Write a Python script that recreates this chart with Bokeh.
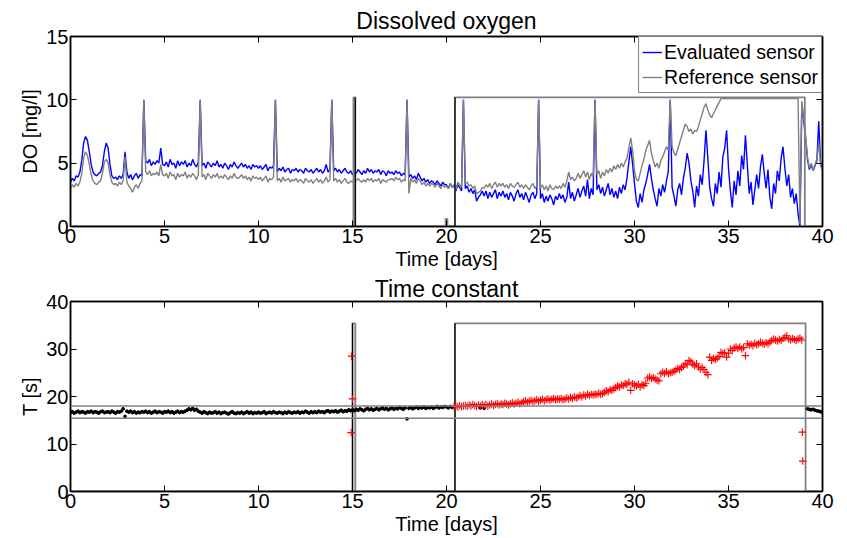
from bokeh.plotting import figure
from bokeh.models import LinearAxis, Range1d, FixedTicker, Legend, LegendItem, Span
from bokeh.layouts import column
from bokeh.embed import file_html
from bokeh.resources import INLINE

FONT = "Liberation Sans"

# ---------------- data ----------------
x_ticks = [0, 5, 10, 15, 20, 25, 30, 35, 40]
do_ticks = [0, 5, 10, 15]
t_ticks = [0, 10, 20, 30, 40]

# DO sampled every 0.1 day, day 0.0 .. 40.0
do_time = [i / 10 for i in range(401)]

do_evaluated = [
    3.5, 3.8, 3.6, 4.0, 3.9, 4.3, 5.2, 6.6, 7.1, 6.8,
    5.9, 4.9, 4.3, 4.1, 4.0, 4.2, 4.3, 4.8, 5.9, 6.6,
    6.2, 4.9, 4.0, 3.8, 3.9, 3.7, 4.0, 3.8, 4.1, 5.9,
    4.3, 3.8, 4.1, 3.7, 4.0, 4.2, 3.8, 4.1, 4.0, 10.0,
    5.2, 5.0, 5.3, 4.8, 5.1, 4.9, 5.2, 5.0, 6.2, 4.9,
    4.8, 5.1, 4.7, 5.3, 4.9, 5.0, 4.6, 5.2, 4.8, 5.1,
    4.9, 5.2, 4.7, 5.0, 4.8, 5.3, 4.9, 4.7, 5.1, 10.0,
    4.8, 5.0, 4.6, 5.1, 4.9, 4.7, 5.0, 4.8, 5.2, 4.7,
    4.9, 4.6, 5.0, 4.8, 4.5, 4.9, 4.7, 5.1, 4.8, 4.6,
    4.8, 5.0, 4.7, 4.9, 4.6, 4.8, 4.5, 4.9, 4.7, 4.8,
    4.6, 4.8, 4.5, 4.7, 4.9, 4.4, 4.7, 4.6, 4.8, 10.0,
    4.3, 4.6, 4.4, 4.7, 4.3, 4.5, 4.6, 4.2, 4.5, 4.4,
    4.6, 4.3, 4.5, 4.4, 4.2, 4.6, 4.4, 4.3, 4.5, 4.2,
    4.4, 4.6, 4.3, 4.5, 4.2, 4.4, 4.9, 4.3, 4.5, 10.0,
    4.4, 4.6, 4.3, 4.5, 4.2, 4.4, 4.6, 4.3, 4.2, 4.4,
    4.1, 4.3, 4.2, 4.5, 4.3, 4.1, 4.4, 4.2, 4.6, 4.3,
    4.5, 4.2, 4.4, 4.3, 4.5, 4.1, 4.4, 4.3, 4.0, 4.4,
    4.2, 4.3, 4.1, 4.4, 4.2, 4.3, 4.0, 4.2, 4.1, 10.0,
    3.9, 4.1, 3.8, 4.0, 3.7, 4.2, 3.9, 3.6, 3.8, 3.5,
    3.7, 3.4, 3.6, 3.5, 3.3, 3.6, 3.4, 3.2, 3.5, 3.3,
    3.3, 3.0, 3.4, 3.1, 3.2, 2.8, 3.3, 3.1, 2.8, 10.0,
    3.0, 3.2, 2.7, 3.0, 2.6, 2.9, 2.0, 2.3, 2.5, 2.8,
    2.4, 2.8, 2.2, 2.7, 2.3, 2.6, 2.9, 2.2, 2.7, 2.4,
    2.8, 2.3, 2.6, 2.1, 2.7, 2.4, 2.0, 2.6, 2.9, 2.3,
    2.6, 2.1, 2.7, 2.3, 1.9, 2.5, 2.7, 2.2, 2.6, 10.0,
    2.2, 2.6, 1.9, 2.4, 2.0, 2.5, 2.2, 1.7, 2.4, 2.1,
    2.6, 2.2, 2.5, 1.9, 2.3, 3.5, 2.2, 2.7, 2.0, 2.5,
    3.0, 2.3, 2.8, 3.2, 2.4, 3.7, 2.2, 3.0, 2.5, 10.0,
    2.9, 3.3, 2.6, 3.1, 2.4, 2.9, 3.4, 2.5, 3.0, 2.3,
    2.8, 2.2, 3.1, 2.6, 3.3, 2.9, 3.8, 5.1, 6.3, 4.9,
    3.4, 2.0, 1.5, 2.6, 1.9, 2.9, 3.4, 4.1, 4.9, 3.8,
    2.9, 2.2, 1.6, 3.0, 2.4, 3.3, 2.7, 3.6, 4.4, 10.0,
    3.1, 2.4, 1.6, 2.9, 3.4, 2.5, 3.8, 4.6, 5.8, 5.0,
    3.6, 2.8, 1.5, 3.2, 2.4, 4.1, 3.3, 5.2, 7.6, 5.4,
    3.1, 2.2, 1.6, 3.4, 2.6, 4.3, 3.1, 5.5, 6.2, 7.6,
    4.6, 2.8, 1.5, 3.6, 2.5, 4.4, 3.2, 5.6, 4.5, 7.2,
    4.9, 2.6, 3.5, 1.7, 2.9, 4.1, 3.0, 4.7, 5.7, 4.2,
    3.0, 4.5, 2.3, 1.4, 3.4, 2.6, 4.4, 3.6, 5.4, 6.3,
    4.6, 3.2, 4.1, 2.3, 3.0, 1.8, 2.6, 1.0, 0.0, 9.6,
    8.4, 7.0, 5.3, 4.5, 4.9, 4.4, 4.8, 5.2, 8.3, 4.9,
    4.5,
]

do_reference = [
    3.0, 3.3, 3.1, 3.4, 3.2, 3.5, 4.2, 5.4, 5.9, 5.6,
    4.9, 4.1, 3.6, 3.4, 3.3, 3.5, 3.6, 4.2, 5.1, 5.3,
    5.0, 4.1, 3.5, 3.3, 3.4, 3.2, 3.5, 3.3, 3.6, 5.5,
    3.5, 3.2, 3.0, 2.7, 3.1, 3.3, 3.0, 3.4, 3.6, 10.0,
    4.3, 4.1, 4.4, 4.0, 4.2, 4.1, 4.3, 4.0, 4.9, 4.1,
    4.0, 4.2, 3.8, 4.3, 4.0, 4.1, 3.7, 4.2, 3.9, 4.1,
    4.0, 4.3, 3.8, 4.1, 3.9, 4.2, 4.0, 3.7, 4.1, 10.0,
    3.9, 4.1, 3.7, 4.2, 4.0, 3.8, 4.1, 3.9, 4.2, 3.8,
    4.0, 3.8, 4.1, 3.9, 3.7, 4.0, 3.8, 4.2, 3.9, 3.8,
    3.9, 4.1, 3.8, 4.0, 3.7, 3.9, 3.6, 4.0, 3.8, 3.9,
    3.7, 3.9, 3.6, 3.8, 4.0, 3.5, 3.8, 3.7, 3.9, 10.0,
    3.6, 3.8, 3.5, 3.9, 3.6, 3.7, 3.8, 3.5, 3.7, 3.6,
    3.8, 3.5, 3.7, 3.6, 3.4, 3.8, 3.6, 3.5, 3.7, 3.4,
    3.6, 3.8, 3.5, 3.7, 3.4, 3.6, 3.9, 3.5, 3.7, 10.0,
    3.6, 3.8, 3.5, 3.7, 3.4, 3.6, 3.8, 3.5, 3.4, 3.6,
    3.5, 3.7, 3.6, 3.8, 3.6, 3.5, 3.7, 3.5, 3.8, 3.6,
    3.8, 3.5, 3.7, 3.6, 3.8, 3.4, 3.7, 3.6, 3.5, 3.7,
    3.7, 3.8, 3.6, 3.9, 3.7, 3.8, 3.5, 3.7, 3.6, 10.0,
    2.6, 3.8, 3.5, 3.7, 3.4, 3.8, 3.6, 3.3, 3.5, 3.2,
    3.4, 3.2, 3.4, 3.3, 3.1, 3.4, 3.2, 3.0, 3.3, 3.1,
    3.2, 3.0, 3.4, 3.1, 3.3, 2.9, 3.5, 3.3, 3.1, 10.0,
    3.4, 3.5, 3.2, 3.3, 3.0, 3.2, 2.6, 2.7, 2.8, 3.1,
    3.0, 3.3, 3.1, 3.4, 3.0, 3.3, 3.5, 3.1, 3.4, 3.2,
    3.4, 3.1, 3.3, 3.0, 3.4, 3.2, 3.1, 3.3, 3.5, 3.1,
    3.3, 3.0, 3.3, 3.1, 2.9, 3.2, 3.4, 3.0, 3.2, 10.0,
    3.0, 3.3, 2.9, 3.2, 2.8, 3.3, 3.0, 2.9, 3.2, 3.0,
    3.2, 3.0, 3.4, 3.1, 3.6, 4.3, 3.7, 3.9, 3.6, 3.8,
    4.2, 3.8, 4.1, 4.4, 3.9, 4.3, 3.7, 4.2, 3.9, 10.0,
    4.1, 4.4, 3.8, 4.3, 4.0, 4.5, 4.2, 4.6, 4.3, 4.8,
    4.5, 4.9, 4.6, 5.0, 4.7, 5.1, 5.4, 6.2, 7.0, 6.0,
    4.4, 3.7, 3.6, 4.2, 4.8, 5.3, 6.0, 6.4, 6.8, 5.8,
    5.2, 4.7, 5.0, 4.6, 5.2, 5.5, 5.9, 6.3, 6.0, 10.0,
    6.3, 5.8, 5.6, 6.1, 6.6, 7.1, 7.6, 8.1, 7.9, 7.5,
    7.7, 7.3, 7.6, 7.5, 7.9, 8.4, 8.9, 9.4, 9.7, 9.2,
    8.8, 8.6, 8.9, 9.2, 9.5, 9.8, 10.1, 10.1, 10.1, 10.1,
    10.1, 10.1, 10.1, 10.1, 10.1, 10.1, 10.1, 10.1, 10.1, 10.1,
    10.1, 10.1, 10.1, 10.1, 10.1, 10.1, 10.1, 10.1, 10.1, 10.1,
    10.1, 10.1, 10.1, 10.1, 10.1, 10.1, 10.1, 10.1, 10.1, 10.1,
    10.1, 10.1, 10.1, 10.1, 10.1, 10.1, 10.1, 10.1, 0.2, 9.9,
    8.6, 7.2, 5.5, 4.6, 5.0, 4.4, 4.9, 5.3, 6.6, 4.8,
    4.4,
]

# fault-flag boxes (gray) and event markers (black)
flag_do_t = [0, 15.05, 15.05, 15.15, 15.15, 19.95, 19.95, 20.05, 20.05, 20.45, 20.45, 39.06, 39.06, 40]
flag_do_v = [0, 0, 10.2, 10.2, 0, 0, 0.6, 0.6, 0, 0, 10.2, 10.2, 0, 0]
mark_do_t = [15.15, 20.45]
mark_do_top = 10.2

flag_tc_t = [0, 15.0, 15.0, 15.15, 15.15, 20.45, 20.45, 39.1, 39.1, 40]
flag_tc_v = [0, 0, 35.4, 35.4, 0, 0, 35.4, 35.4, 0, 0]
mark_tc_t = [15.0, 20.45]
mark_tc_top = 35.4

tc_limits = [15.4, 18.0]

# Time constant, accepted estimates (black)
tc_ok_t = [i / 10 for i in range(204)] + [21.8, 22.0] + [39.2, 39.3, 39.4, 39.5, 39.6, 39.7, 39.8, 39.9, 40.0]
tc_ok_v = [
    16.6, 16.8, 16.5, 16.7, 16.9, 16.6, 16.8, 16.7, 16.5, 16.8,
    16.7, 16.9, 16.6, 16.8, 16.7, 16.5, 16.8, 16.9, 16.6, 16.7,
    16.8, 16.6, 16.9, 16.7, 16.5, 16.8, 16.7, 16.9, 17.4, 15.8,
    16.9, 16.7, 16.9, 16.6, 16.8, 16.5, 16.7, 16.6, 16.8, 16.7,
    16.9, 16.6, 16.8, 16.5, 16.7, 16.9, 16.6, 16.8, 16.7, 16.5,
    16.8, 16.7, 16.9, 16.6, 16.8, 16.5, 16.7, 16.9, 16.6, 16.8,
    16.7, 16.9, 17.1, 17.4, 17.2, 17.5, 17.1, 17.3, 16.9, 16.7,
    16.5, 16.8, 16.6, 16.4, 16.7, 16.5, 16.6, 16.8, 16.5, 16.7,
    16.4, 16.6, 16.7, 16.5, 16.3, 16.6, 16.8, 16.5, 16.4, 16.6,
    16.5, 16.7, 16.4, 16.6, 16.8, 16.5, 16.7, 16.4, 16.6, 16.5,
    16.7, 16.5, 16.6, 16.8, 16.4, 16.6, 16.7, 16.5, 16.8, 16.6,
    16.5, 16.7, 16.6, 16.4, 16.7, 16.5, 16.8, 16.6, 16.5, 16.7,
    16.6, 16.8, 16.5, 16.7, 16.6, 16.9, 16.7, 16.5, 16.8, 16.6,
    16.8, 16.6, 16.9, 16.7, 16.8, 16.6, 16.9, 17.0, 16.7, 16.9,
    16.8, 17.0, 16.7, 16.9, 17.1, 16.8, 17.0, 16.9, 17.2, 17.0,
    17.2, 17.0, 17.3, 17.1, 17.4, 17.2, 17.0, 17.3, 17.5, 17.2,
    17.4, 17.1, 17.3, 17.5, 17.2, 17.4, 17.6, 17.3, 17.5, 17.2,
    17.4, 17.6, 17.3, 17.5, 17.4, 17.7, 17.5, 17.3, 17.6, 15.3,
    17.5, 17.7, 17.4, 17.6, 17.8, 17.5, 17.7, 17.6, 17.8, 17.5,
    17.7, 17.6, 17.8, 17.5, 17.7, 17.9, 17.6, 17.8, 17.7, 17.9,
    17.8, 17.6, 17.9, 17.7,
    17.6, 17.5,
    17.4, 17.3, 17.2, 17.3, 17.1, 17.0, 16.9, 16.8, 16.6,
]

# Time constant, rejected estimates (red)
tc_bad_t = [14.93, 14.95, 15.0] + [204 / 10 + i / 10 for i in range(186)] + [38.93, 38.95]
tc_bad_v = [12.4, 28.5, 19.5] + [
    17.9, 18.0, 17.8, 18.1, 17.9, 18.0,
    18.1, 17.9, 18.2, 18.0, 18.3, 18.1, 17.9, 18.2, 18.0, 18.3,
    18.1, 18.3, 18.0, 18.2, 18.4, 18.1, 18.3, 18.5, 18.2, 18.4,
    18.3, 18.6, 18.4, 18.2, 18.5, 18.7, 18.4, 18.6, 18.8, 18.5,
    18.7, 18.9, 19.1, 18.8, 19.0, 19.2, 18.9, 19.1, 19.3, 19.0,
    19.2, 19.4, 19.1, 19.3, 19.5, 19.2, 19.4, 19.6, 19.3, 19.5,
    19.4, 19.6, 19.3, 19.5, 19.7, 19.5, 19.8, 19.6, 19.9, 19.7,
    19.9, 20.2, 19.9, 20.3, 20.1, 20.4, 20.2, 20.5, 20.3, 20.5,
    20.4, 20.7, 20.5, 20.6, 20.9, 21.2, 21.0, 21.4, 21.3, 21.6,
    21.9, 22.2, 22.0, 22.4, 22.3, 22.7, 22.6, 23.0, 21.3, 22.7,
    22.4, 22.2, 22.6, 22.0, 22.5, 22.3, 22.8, 23.9, 24.1, 23.8,
    24.0, 23.7, 23.5, 23.3, 24.8, 25.1, 24.9, 25.2, 24.8, 25.0,
    25.1, 25.3, 25.6, 25.9, 25.7, 26.1, 26.4, 26.9, 26.7, 27.6,
    27.3, 26.8, 26.5, 26.9, 26.2, 25.8, 26.1, 25.7, 25.1, 24.6,
    28.3, 27.6, 28.0, 27.8, 28.1, 28.4, 29.3, 29.0, 29.2, 28.3,
    29.1, 30.0, 29.7, 30.2, 30.4, 30.1, 30.4, 30.0, 30.3, 28.6,
    31.1, 30.8, 31.0, 30.7, 31.2, 30.9, 31.1, 31.4, 31.2, 31.0,
    31.3, 31.1, 31.5, 31.8, 32.1, 31.9, 31.7, 32.0, 31.8, 32.2,
    32.4, 32.8, 32.1, 31.9, 32.2, 32.0, 31.8, 32.1, 32.3, 31.9,
] + [12.5, 6.4]

assert len(do_evaluated) == len(do_time)
assert len(do_reference) == len(do_time)
assert len(tc_ok_t) == len(tc_ok_v)
assert len(tc_bad_t) == len(tc_bad_v)

BLUE = "#0000ff"
GRAY = "#808080"


def style(p, yticks, title_standoff):
    p.title.align = "center"
    p.title.text_font = FONT
    p.title.text_font_size = "23px"
    p.title.text_font_style = "normal"
    p.title.text_color = "black"
    p.title.standoff = title_standoff
    p.outline_line_color = "black"
    p.outline_line_width = 1.5
    p.xgrid.visible = False
    p.ygrid.visible = False
    p.background_fill_color = "white"
    p.border_fill_color = "white"
    p.xaxis.ticker = FixedTicker(ticks=x_ticks)
    p.yaxis.ticker = FixedTicker(ticks=yticks)
    for ax in (p.xaxis, p.yaxis):
        ax.major_tick_in = 6
        ax.major_tick_out = 0
        ax.minor_tick_line_color = None
        ax.axis_line_width = 1.5
        ax.axis_line_color = "black"
        ax.major_tick_line_width = 1
        ax.major_label_text_font = FONT
        ax.major_label_text_font_size = "20px"
        ax.major_label_text_color = "black"
        ax.axis_label_text_font = FONT
        ax.axis_label_text_font_size = "20px"
        ax.axis_label_text_font_style = "normal"
        ax.axis_label_text_color = "black"
    p.xaxis.major_label_standoff = 2
    p.xaxis.axis_label_standoff = 2
    p.yaxis.major_label_standoff = 2
    p.yaxis.axis_label_standoff = 2
    for place, ticks in (("right", yticks), ("above", x_ticks)):
        ax = LinearAxis(ticker=FixedTicker(ticks=ticks),
                        major_label_overrides={t: "" for t in ticks},
                        major_label_text_font_size="1px",
                        major_label_standoff=0,
                        major_tick_in=6, major_tick_out=0,
                        minor_tick_line_color=None,
                        axis_line_width=1.5, axis_line_color="black")
        p.add_layout(ax, place)


# ---------------- top: dissolved oxygen ----------------
p1 = figure(width=847, height=273, x_range=Range1d(0, 40), y_range=Range1d(0, 15),
            output_backend="svg", toolbar_location=None,
            min_border_left=70, min_border_right=25, min_border_top=36, min_border_bottom=47,
            title="Dissolved oxygen", x_axis_label="Time [days]", y_axis_label="DO [mg/l]")
style(p1, do_ticks, 6)

r_eval = p1.line(do_time, do_evaluated, line_color=BLUE, line_width=1.4)
r_ref = p1.line(do_time, do_reference, line_color=GRAY, line_width=1.4)
p1.line(flag_do_t, flag_do_v, line_color=GRAY, line_width=1.8)
p1.segment(x0=mark_do_t, y0=[0] * len(mark_do_t), x1=mark_do_t, y1=[mark_do_top] * len(mark_do_t),
           line_color="black", line_width=1.2)

legend = Legend(items=[LegendItem(label="Evaluated sensor", renderers=[r_eval]),
                       LegendItem(label="Reference sensor", renderers=[r_ref])],
                location="top_right")
legend.label_text_font = FONT
legend.label_text_font_size = "19.5px"
legend.label_text_color = "black"
legend.border_line_color = "black"
legend.border_line_width = 1
legend.background_fill_color = "white"
legend.background_fill_alpha = 1
legend.glyph_width = 20
legend.glyph_height = 24
legend.label_height = 24
legend.label_standoff = 2
legend.spacing = 1
legend.padding = 3
legend.margin = 0
p1.add_layout(legend)

# ---------------- bottom: time constant ----------------
p2 = figure(width=847, height=265, x_range=Range1d(0, 40), y_range=Range1d(0, 40),
            output_backend="svg", toolbar_location=None,
            min_border_left=70, min_border_right=25, min_border_top=28, min_border_bottom=47,
            title="Time constant", x_axis_label="Time [days]", y_axis_label="T [s]")
style(p2, t_ticks, 0)

for lim in tc_limits:
    p2.add_layout(Span(location=lim, dimension="width", line_color=GRAY, line_width=1.5))
p2.line(flag_tc_t, flag_tc_v, line_color=GRAY, line_width=1.8)
p2.segment(x0=mark_tc_t, y0=[0] * len(mark_tc_t), x1=mark_tc_t, y1=[mark_tc_top] * len(mark_tc_t),
           line_color="black", line_width=1.2)
p2.scatter(tc_ok_t, tc_ok_v, marker="circle", size=2.8, fill_color="black", line_color="black")
p2.scatter(tc_bad_t, tc_bad_v, marker="cross", size=7.5, line_color="#ff0000", line_width=1.1)

layout = column(p1, p2, spacing=0)
open("out.html", "w").write(file_html(layout, INLINE))
